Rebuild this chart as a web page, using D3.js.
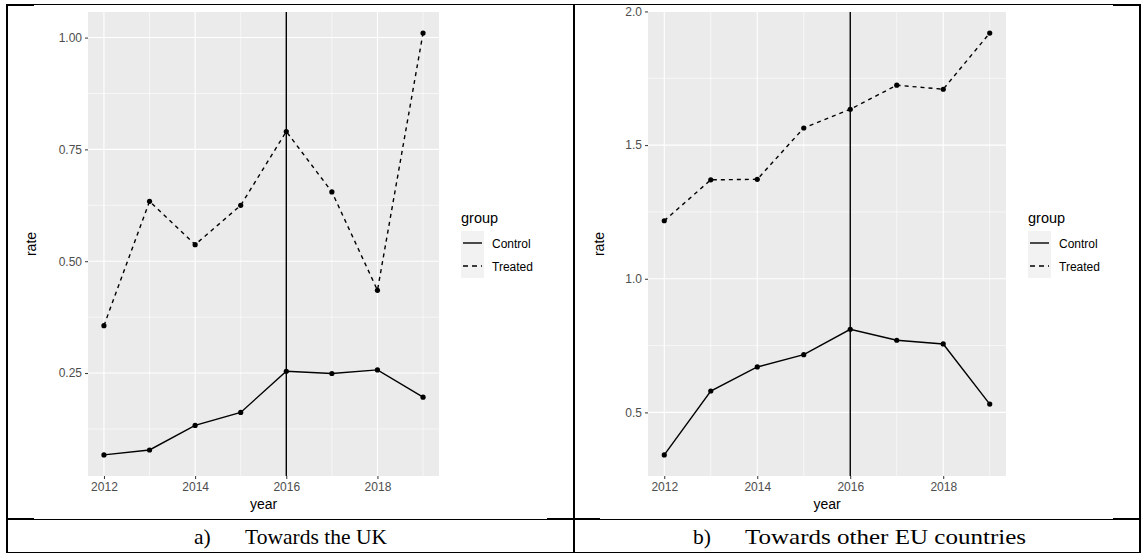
<!DOCTYPE html>
<html><head><meta charset="utf-8">
<script src="https://cdn.jsdelivr.net/npm/d3@7"></script>
<style>body{margin:0;background:#fff}svg{display:block}</style>
</head><body>
<svg id="c" width="1141" height="553"></svg>
<script>
const years = [2012, 2013, 2014, 2015, 2016, 2017, 2018, 2019];
const ukTreated = [0.356, 0.634, 0.537, 0.625, 0.790, 0.655, 0.435, 1.010];
const ukControl = [0.067, 0.078, 0.133, 0.162, 0.254, 0.249, 0.257, 0.196];
const euTreated = [1.217, 1.370, 1.372, 1.564, 1.634, 1.724, 1.709, 1.919];
const euControl = [0.341, 0.580, 0.670, 0.716, 0.811, 0.770, 0.756, 0.531];
const xTicks = [2012, 2014, 2016, 2018];
const ukYTicks = [0.25, 0.50, 0.75, 1.00];
const euYTicks = [0.5, 1.0, 1.5, 2.0];
const groups = ["Control", "Treated"];
const vlineYear = 2016;
const captions = [["a)", "Towards the UK"], ["b)", "Towards other EU countries"]];

const svg = d3.select("#c");
const FONT = "'Liberation Sans', Arial, sans-serif";
const SERIF = "'Liberation Serif', 'DejaVu Serif', serif";

// table borders
const T = svg.append("g");
T.append("line").attr("x1",6).attr("x2",1140).attr("y1",4.5).attr("y2",4.5).attr("stroke","#000").attr("stroke-width",1);
T.append("rect").attr("x",6).attr("y",4).attr("width",28).attr("height",2).attr("fill","#000");
T.append("rect").attr("x",1113).attr("y",4).attr("width",27).attr("height",2).attr("fill","#000");
T.append("line").attr("x1",6).attr("x2",1140).attr("y1",519.5).attr("y2",519.5).attr("stroke","#000");
T.append("rect").attr("x",547).attr("y",518).attr("width",53).attr("height",2).attr("fill","#000");
T.append("rect").attr("x",1113).attr("y",518).attr("width",27).attr("height",2).attr("fill","#000");
T.append("rect").attr("x",6).attr("y",518).attr("width",28).attr("height",2).attr("fill","#000");
T.append("line").attr("x1",6).attr("x2",1140).attr("y1",552.5).attr("y2",552.5).attr("stroke","#000");
T.append("rect").attr("x",6).attr("y",4).attr("width",2).attr("height",549).attr("fill","#000");
T.append("rect").attr("x",573).attr("y",4).attr("width",2).attr("height",549).attr("fill","#000");
T.append("rect").attr("x",1139).attr("y",4).attr("width",2).attr("height",549).attr("fill","#000");

function panel(cfg) {
  const g = svg.append("g");
  const all = cfg.treated.concat(cfg.control);
  const ymin = d3.min(all), ymax = d3.max(all);
  const ypad = (ymax - ymin) * 0.05;
  const xpad = (d3.max(years) - d3.min(years)) * 0.05;
  const x = d3.scaleLinear().domain([d3.min(years) - xpad, d3.max(years) + xpad]).range([cfg.left, cfg.right]);
  const y = d3.scaleLinear().domain([ymin - ypad, ymax + ypad]).range([cfg.bottom, cfg.top]);
  g.append("rect").attr("x", cfg.left).attr("y", cfg.top).attr("width", cfg.right - cfg.left)
    .attr("height", cfg.bottom - cfg.top).attr("fill", "#EBEBEB");
  // minor grid
  const xMinor = d3.range(2011, 2021, 2).filter(v => x(v) >= cfg.left && x(v) <= cfg.right);
  const step = cfg.yTicks[1] - cfg.yTicks[0];
  const yMinor = d3.range(cfg.yTicks[0] - step / 2, cfg.yTicks[cfg.yTicks.length - 1] + step, step)
    .filter(v => y(v) >= cfg.top && y(v) <= cfg.bottom);
  g.selectAll(".xm").data(xMinor).enter().append("line")
    .attr("x1", d => x(d)).attr("x2", d => x(d)).attr("y1", cfg.top).attr("y2", cfg.bottom)
    .attr("stroke", "#fff").attr("stroke-width", 0.6);
  g.selectAll(".ym").data(yMinor).enter().append("line")
    .attr("y1", d => y(d)).attr("y2", d => y(d)).attr("x1", cfg.left).attr("x2", cfg.right)
    .attr("stroke", "#fff").attr("stroke-width", 0.6);
  // major grid
  g.selectAll(".xg").data(xTicks).enter().append("line")
    .attr("x1", d => x(d)).attr("x2", d => x(d)).attr("y1", cfg.top).attr("y2", cfg.bottom)
    .attr("stroke", "#fff").attr("stroke-width", 1.1);
  g.selectAll(".yg").data(cfg.yTicks).enter().append("line")
    .attr("y1", d => y(d)).attr("y2", d => y(d)).attr("x1", cfg.left).attr("x2", cfg.right)
    .attr("stroke", "#fff").attr("stroke-width", 1.1);
  // axes
  const ax = g.append("g").attr("transform", `translate(0,${cfg.bottom})`)
    .call(d3.axisBottom(x).tickValues(xTicks).tickFormat(d3.format("d")).tickSize(3).tickPadding(3));
  const ay = g.append("g").attr("transform", `translate(${cfg.left},0)`)
    .call(d3.axisLeft(y).tickValues(cfg.yTicks).tickFormat(d3.format(cfg.yFmt)).tickSize(3).tickPadding(3));
  [ax, ay].forEach(a => {
    a.select(".domain").remove();
    a.selectAll("line").attr("stroke", "#333").attr("stroke-width", 1);
    a.selectAll("text").attr("fill", "#4D4D4D").style("font-family", FONT).style("font-size", "12px");
  });
  // vline
  g.append("line").attr("x1", x(vlineYear)).attr("x2", x(vlineYear)).attr("y1", cfg.top).attr("y2", cfg.bottom)
    .attr("stroke", "#000").attr("stroke-width", 1.4);
  // series
  const series = [{ name: groups[0], vals: cfg.control, dash: null }, { name: groups[1], vals: cfg.treated, dash: "4,4" }];
  const line = d3.line().x((d, i) => x(years[i])).y(d => y(d));
  series.forEach(s => {
    g.append("path").attr("d", line(s.vals)).attr("fill", "none").attr("stroke", "#000")
      .attr("stroke-width", 1.4).attr("stroke-dasharray", s.dash);
    g.selectAll(null).data(s.vals).enter().append("circle")
      .attr("cx", (d, i) => x(years[i])).attr("cy", d => y(d)).attr("r", 2.6).attr("fill", "#000");
  });
  // axis titles
  g.append("text").attr("x", (cfg.left + cfg.right) / 2).attr("y", 509).attr("text-anchor", "middle")
    .style("font-family", FONT).style("font-size", "14px").attr("fill", "#000").text("year");
  g.append("text").attr("transform", `translate(${cfg.rateX},${(cfg.top + cfg.bottom) / 2}) rotate(-90)`)
    .attr("text-anchor", "middle").style("font-family", FONT).style("font-size", "14px").attr("fill", "#000").text("rate");
  // legend
  const L = g.append("g").attr("transform", `translate(${cfg.legX},0)`);
  L.append("text").attr("x", 0).attr("y", 223).style("font-family", FONT).style("font-size", "14.5px").text("group");
  L.append("rect").attr("x", 0).attr("y", 231).attr("width", 23).attr("height", 47).attr("fill", "#F2F2F2");
  series.forEach((s, i) => {
    const yy = 243 + i * 23;
    L.append("line").attr("x1", 2).attr("x2", 21).attr("y1", yy).attr("y2", yy).attr("stroke", "#000")
      .attr("stroke-width", 1.4).attr("stroke-dasharray", s.dash ? "5,4" : null);
    L.append("text").attr("x", 31).attr("y", yy + 4.5).style("font-family", FONT).style("font-size", "12px")
      .attr("fill", "#000").text(s.name);
  });
  // caption
  const C = g.append("g");
  C.append("text").attr("x", cfg.capA).attr("y", 544).style("font-family", SERIF)
    .style("font-size", "21.5px").text(cfg.caption[0]);
  C.append("text").attr("x", cfg.capB).attr("y", 544).style("font-family", SERIF)
    .style("font-size", "21.5px").attr("textLength", cfg.capW).attr("lengthAdjust", "spacingAndGlyphs")
    .text(cfg.caption[1]);
}

panel({ left: 88, right: 439, top: 12, bottom: 476, treated: ukTreated, control: ukControl, yTicks: ukYTicks,
  yFmt: ".2f", rateX: 36, legX: 461, caption: captions[0], capA: 194, capB: 245, capW: 142 });
panel({ left: 648, right: 1006, top: 12, bottom: 476, treated: euTreated, control: euControl, yTicks: euYTicks,
  yFmt: ".1f", rateX: 604, legX: 1028, caption: captions[1], capA: 693, capB: 745, capW: 281 });
</script>
</body></html>
